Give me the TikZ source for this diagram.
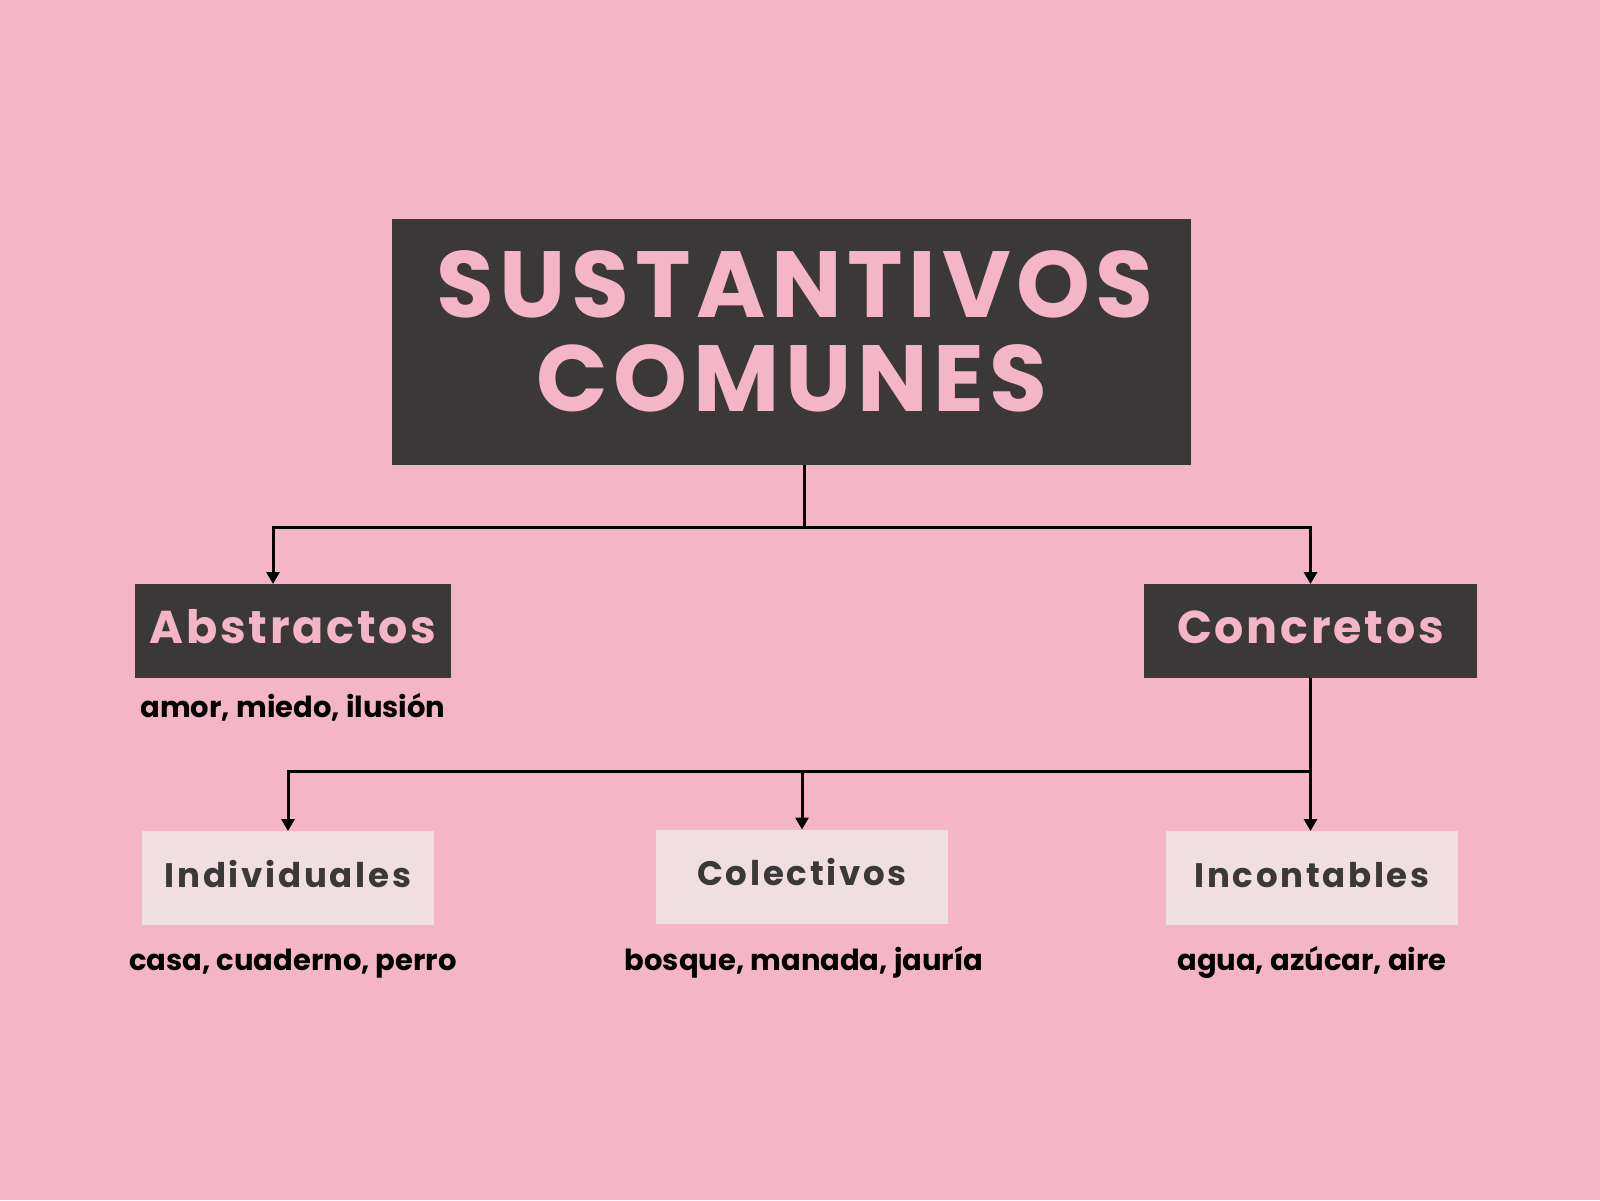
\documentclass[tikz,border=0pt]{standalone}
\usepackage{fontspec}
\setmainfont{Poppins}
\newfontfamily\titlefont{Poppins}[LetterSpace=6]
\newfontfamily\catfont{Poppins}[LetterSpace=6]
\newfontfamily\subfont{Poppins}[LetterSpace=8]
\usetikzlibrary{arrows.meta}
\definecolor{bgpink}{HTML}{F4B5C6}
\definecolor{boxdark}{HTML}{3A3839}
\definecolor{boxlight}{HTML}{F0DFE0}
\begin{document}
\begin{tikzpicture}[x=1pt,y=-1pt,
  mainbox/.style={fill=boxdark,inner sep=0pt,outer sep=0pt},
  titletext/.style={text=bgpink,inner sep=0pt,font=\titlefont\bfseries\fontsize{94}{94}\selectfont},
  catbox/.style={fill=boxdark,text=bgpink,inner sep=0pt,outer sep=0pt,minimum height=94pt,
    text height=32pt,text depth=8pt,font=\catfont\bfseries\fontsize{46}{46}\selectfont},
  subbox/.style={fill=boxlight,text=boxdark,inner sep=0pt,outer sep=0pt,minimum width=292pt,minimum height=94pt,
    text height=24pt,text depth=6pt,font=\subfont\bfseries\fontsize{34}{34}\selectfont},
  example/.style={text=black,inner sep=0pt,font=\bfseries\fontsize{29}{29}\selectfont},
  link/.style={draw=black,line width=3pt},
  arrowlink/.style={link,-{Triangle[width=13pt,length=12pt]}}
]
\fill[bgpink] (0,0) rectangle (1600,1200);
\useasboundingbox (0,0) rectangle (1600,1200);

\node[mainbox,minimum width=799pt,minimum height=246pt] (title) at (791.5,342) {};
\node[titletext,anchor=base] (t1) at (795,317) {SUSTANTIVOS};
\node[titletext,anchor=base] (t2) at (792,411) {COMUNES};

\node[catbox,minimum width=316pt] (abs) at (293,631) {Abstractos};
\node[catbox,minimum width=333pt] (con) at (1310.5,631) {Concretos};
\node[example,anchor=base] (absex) at (293,717) {amor, miedo, ilusión};

\node[subbox] (ind) at (288,878) {Individuales};
\node[subbox] (col) at (802,876.5) {Colectivos};
\node[subbox] (inc) at (1312,878) {Incontables};

\node[example,anchor=base] (index) at (293,970) {casa, cuaderno, perro};
\node[example,anchor=base] (colex) at (804,970) {bosque, manada, jauría};
\node[example,anchor=base] (incex) at (1312,970) {agua, azúcar, aire};

\coordinate (split1) at (804,527);
\coordinate (absin) at (273,584);
\coordinate (split2) at (1310.5,771);

\draw[link] (title.south -| split1) -- (split1);
\draw[arrowlink] (split1) -| (absin);
\draw[arrowlink] (split1) -| (con.north);
\draw[arrowlink] (con.south) -- (con.south |- inc.north);
\draw[arrowlink] (split2) -| (ind.north);
\draw[arrowlink] (col.north |- split2) -- (col.north);
\end{tikzpicture}
\end{document}
